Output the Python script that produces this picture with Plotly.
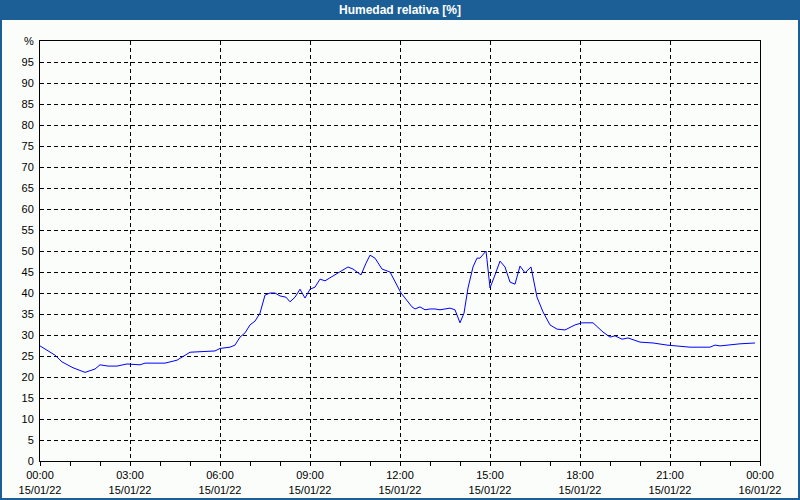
import plotly.graph_objects as go

times = ["00:00","00:30","00:44","01:06","01:30","01:50","02:00","02:16","02:34","02:54",
         "03:20","03:30","04:10","04:34","05:00","05:20","05:50","06:00","06:20","06:30",
         "06:40","06:50","07:00","07:10","07:20","07:30","07:40","07:50","08:00","08:12",
         "08:20","08:30","08:40","08:50","09:00","09:10","09:20","09:30","09:40","10:00",
         "10:16","10:26","10:42","10:52","11:00","11:10","11:24","11:40","11:50","12:02",
         "12:10","12:24","12:30","12:40","12:50","13:00","13:10","13:20","13:30","13:40",
         "13:50","14:00","14:08","14:16","14:26","14:34","14:40","14:48","14:52","14:54",
         "15:00","15:10","15:20","15:30","15:40","15:50","16:00","16:10","16:22","16:34",
         "16:46","17:00","17:14","17:30","17:50","18:04","18:26","18:46","19:00","19:10",
         "19:24","19:36","20:00","20:26","20:54","21:40","22:20","22:30","22:40","23:20",
         "23:50"]
humidity = [27.4,25.2,23.6,22.2,21.1,21.9,22.9,22.6,22.6,23.1,
            22.9,23.3,23.3,24.0,25.9,26.0,26.2,26.8,27.1,27.6,
            29.5,30.5,32.4,33.3,35.2,39.5,40.0,40.0,39.3,39.0,
            37.9,39.0,40.9,38.8,40.9,41.4,43.3,42.9,43.6,45.0,
            46.2,45.7,44.3,47.1,49.0,48.3,45.7,45.0,42.6,40.0,
            38.8,36.7,36.2,36.7,36.0,36.2,36.2,36.0,36.2,36.4,
            36.0,32.9,35.2,41.2,46.2,48.3,48.3,49.5,50.0,47.9,
            41.2,44.3,47.6,46.2,42.6,42.1,46.4,44.8,46.2,39.0,
            35.5,32.4,31.4,31.2,32.4,32.9,32.9,30.7,29.5,29.8,
            29.0,29.3,28.3,28.1,27.6,27.1,27.1,27.6,27.4,27.9,
            28.1]
xtick_vals = ["2022-01-15 00:00","2022-01-15 03:00","2022-01-15 06:00","2022-01-15 09:00",
              "2022-01-15 12:00","2022-01-15 15:00","2022-01-15 18:00","2022-01-15 21:00",
              "2022-01-16 00:00"]
xtick_text = ["00:00<br>15/01/22","03:00<br>15/01/22","06:00<br>15/01/22","09:00<br>15/01/22",
              "12:00<br>15/01/22","15:00<br>15/01/22","18:00<br>15/01/22","21:00<br>15/01/22",
              "00:00<br>16/01/22"]
ytick_vals = list(range(0, 101, 5))
ytick_text = [str(v) for v in range(0, 100, 5)] + ["%"]
title = "Humedad relativa [%]"

x = ["2022-01-15 " + t for t in times]

fig = go.Figure()
fig.add_trace(go.Scatter(x=x, y=humidity, mode="lines",
                         line=dict(color="#0000ff", width=1), hoverinfo="skip"))

bg = "#fbfdfb"
font = dict(family="Liberation Sans, DejaVu Sans, sans-serif", size=11, color="#000000")
fig.update_layout(
    width=800, height=500,
    margin=dict(l=40, r=40, t=41, b=39),
    paper_bgcolor=bg, plot_bgcolor=bg,
    showlegend=False, font=font,
    xaxis=dict(type="date", range=["2022-01-15 00:00", "2022-01-16 00:00"],
               tickmode="array", tickvals=xtick_vals, ticktext=xtick_text,
               showgrid=True, gridcolor="#000000", griddash="4px,3px", gridwidth=1,
               showline=True, linecolor="#000000", linewidth=1, mirror=True,
               ticks="outside", ticklen=4, tickcolor="#000000",
               minor=dict(dtick=3600000, ticks="outside", ticklen=4, tickcolor="#000000",
                          showgrid=False),
               zeroline=False, fixedrange=True, automargin=False),
    yaxis=dict(range=[0, 100], tickmode="array", tickvals=ytick_vals, ticktext=ytick_text,
               showgrid=True, gridcolor="#000000", griddash="4px,3px", gridwidth=1,
               showline=True, linecolor="#000000", linewidth=1, mirror=True,
               ticks="", ticklabelstandoff=3, zeroline=False, fixedrange=True,
               automargin=False),
)

# title bar and window border
fig.add_shape(type="rect", xref="paper", yref="paper",
              x0=-40/720, x1=760/720, y0=(461-20)/420, y1=461/420,
              fillcolor="#1c5f97", line=dict(width=0), layer="above")
fig.add_shape(type="rect", xref="paper", yref="paper",
              x0=-39/720, x1=759/720, y0=-38/420, y1=460/420,
              fillcolor="rgba(0,0,0,0)", line=dict(color="#1c5f97", width=2), layer="above")
fig.add_annotation(text="<b>" + title + "</b>", xref="paper", yref="paper",
                   x=0.5, y=(461-10)/420, showarrow=False, xanchor="center", yanchor="middle",
                   font=dict(family="Liberation Sans, DejaVu Sans, sans-serif", size=12, color="#ffffff"))

fig.write_html("out.html")
